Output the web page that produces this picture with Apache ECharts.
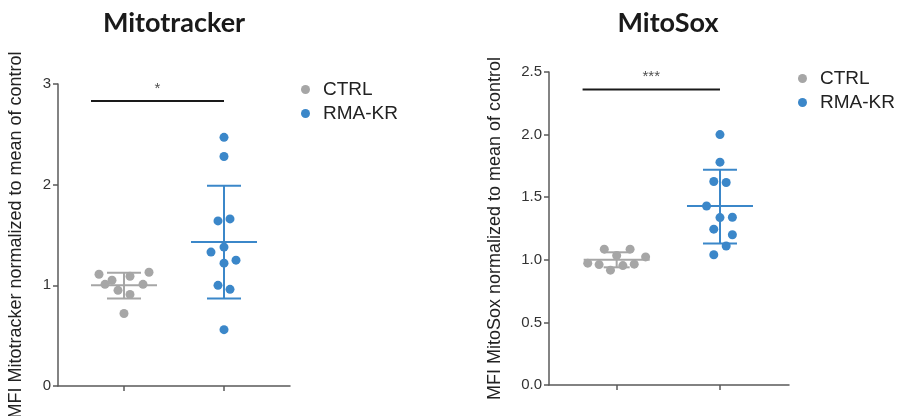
<!DOCTYPE html>
<html><head><meta charset="utf-8">
<script src="https://cdn.jsdelivr.net/npm/echarts@6/dist/echarts.min.js"></script>
<style>html,body{margin:0;padding:0;background:#fff}#c{width:909px;height:416px}</style>
</head><body><div id="c"></div>
<script>
// ---------- data ----------
const groups = ['CTRL', 'RMA-KR'];
const groupPos = [1, 2];
// Mitotracker
const mitoCtrl       = [1.11, 1.05, 1.01, 1.09, 1.13, 1.01, 0.95, 0.91, 0.72];
const mitoCtrlJitter = [-0.25, -0.12, -0.19, 0.06, 0.25, 0.19, -0.06, 0.06, 0];
const mitoKr         = [2.47, 2.28, 1.64, 1.66, 1.38, 1.33, 1.25, 1.22, 1.00, 0.96, 0.56];
const mitoKrJitter   = [0, 0, -0.06, 0.06, 0, -0.13, 0.12, 0, -0.06, 0.06, 0];
const mitoMean = [1.00, 1.43];
const mitoLow  = [0.87, 0.87];
const mitoHigh = [1.125, 1.99];
// MitoSox
const soxCtrl       = [1.085, 1.085, 1.034, 1.023, 0.973, 0.962, 0.954, 0.965, 0.917];
const soxCtrlJitter = [-0.12, 0.13, 0, 0.28, -0.28, -0.17, 0.06, 0.17, -0.06];
const soxKr         = [2.00, 1.78, 1.625, 1.617, 1.43, 1.337, 1.34, 1.245, 1.20, 1.11, 1.04];
const soxKrJitter   = [0, 0, -0.06, 0.06, -0.13, 0, 0.12, -0.06, 0.12, 0.06, -0.06];
const soxMean = [1.00, 1.43];
const soxLow  = [0.94, 1.13];
const soxHigh = [1.06, 1.72];
// significance
const sigSpan  = [0.67, 2];
const sigLevel = [2.83, 2.36];
const sigLabel = ['*', '***'];
// axes
const titles = ['Mitotracker', 'MitoSox'];
const yNames = ['MFI Mitotracker normalized to mean of control', 'MFI MitoSox normalized to mean of control'];
const yMax = [3, 2.5];
const yStep = [1, 0.5];

// ---------- style ----------
const GRAY = '#a6a6a6', BLUE = '#3b87c9', AXIS = '#5a5a5a';
const FONT = 'Liberation Sans, Arial, sans-serif';

function pts(vals, jit, gi) { return vals.map((v, i) => [groupPos[gi] + jit[i], v]); }

function errRender(capHalfs) {
  return function (params, api) {
    const x = api.value(0), m = api.value(1), lo = api.value(2), hi = api.value(3);
    const c = api.coord([x, m]), cl = api.coord([x, lo]), ch = api.coord([x, hi]);
    const col = api.visual('color');
    const st = { stroke: col, lineWidth: 2 };
    const cap = capHalfs[params.dataIndex] || 17;
    return { type: 'group', children: [
      { type: 'line', shape: { x1: c[0] - 33, y1: c[1], x2: c[0] + 33, y2: c[1] }, style: st },
      { type: 'line', shape: { x1: cl[0], y1: cl[1], x2: ch[0], y2: ch[1] }, style: st },
      { type: 'line', shape: { x1: ch[0] - cap, y1: ch[1], x2: ch[0] + cap, y2: ch[1] }, style: st },
      { type: 'line', shape: { x1: cl[0] - cap, y1: cl[1], x2: cl[0] + cap, y2: cl[1] }, style: st }
    ]};
  };
}

const sets = [
  { ctrl: pts(mitoCtrl, mitoCtrlJitter, 0), kr: pts(mitoKr, mitoKrJitter, 1), mean: mitoMean, low: mitoLow, high: mitoHigh, caps: [17, 17] },
  { ctrl: pts(soxCtrl, soxCtrlJitter, 0), kr: pts(soxKr, soxKrJitter, 1), mean: soxMean, low: soxLow, high: soxHigh, caps: [13, 17] }
];

const grids = [
  { left: 58, width: 232, top: 84, height: 302, outerBoundsMode: 'none', containLabel: false },
  { left: 549, width: 240, top: 72, height: 313, outerBoundsMode: 'none', containLabel: false }
];
const xRanges = [[0.34, 2.66], [0.345, 2.668]];

const titleStyle = { fontFamily: 'Lato', fontWeight: 'bold', fontSize: 27, color: '#1a1a1a' };
const legendText = { fontFamily: FONT, fontSize: 19, color: '#222', padding: [0, 0, 0, 8], lineHeight: 19 };

const option = {
  animation: false,
  backgroundColor: '#fff',
  title: [
    { text: titles[0], left: 169, top: 5, textAlign: 'center', textStyle: titleStyle },
    { text: titles[1], left: 663, top: 5, textAlign: 'center', textStyle: titleStyle }
  ],
  legend: [
    { left: 296, top: 75, orient: 'vertical', itemGap: 5, itemWidth: 9, itemHeight: 9, icon: 'circle', data: groups, textStyle: legendText },
    { left: 793, top: 64, orient: 'vertical', itemGap: 5, itemWidth: 9, itemHeight: 9, icon: 'circle', data: groups, textStyle: legendText }
  ],
  grid: grids,
  xAxis: [0, 1].map(i => ({
    type: 'value', gridIndex: i, min: xRanges[i][0], max: xRanges[i][1],
    splitLine: { show: false },
    axisLine: { show: true, lineStyle: { color: AXIS, width: 1.5 } },
    axisTick: { show: true, customValues: groupPos, length: 5, lineStyle: { color: AXIS, width: 1.5 } },
    axisLabel: { show: false }
  })),
  yAxis: [0, 1].map(i => ({
    type: 'value', gridIndex: i, min: 0, max: yMax[i], interval: yStep[i],
    name: yNames[i], nameLocation: 'middle', nameRotate: 90, nameGap: i === 0 ? 33 : 45,
    nameTextStyle: { fontFamily: FONT, fontSize: 18, color: '#222' },
    splitLine: { show: false },
    axisLine: { show: true, lineStyle: { color: AXIS, width: 1.5 } },
    axisTick: { show: true, length: 5, lineStyle: { color: AXIS, width: 1.5 } },
    axisLabel: { fontFamily: FONT, fontSize: 15, color: '#333', margin: 7,
      formatter: v => i === 0 ? String(v) : v.toFixed(1) }
  })),
  series: []
};

[0, 1].forEach(i => {
  const s = sets[i];
  option.series.push({
    type: 'custom', name: groups[0], xAxisIndex: i, yAxisIndex: i, z: 2,
    itemStyle: { color: GRAY }, renderItem: errRender([s.caps[0]]),
    data: [[groupPos[0], s.mean[0], s.low[0], s.high[0]]]
  });
  option.series.push({
    type: 'custom', name: groups[1], xAxisIndex: i, yAxisIndex: i, z: 2,
    itemStyle: { color: BLUE }, renderItem: errRender([s.caps[1]]),
    data: [[groupPos[1], s.mean[1], s.low[1], s.high[1]]]
  });
  option.series.push({
    type: 'scatter', name: groups[0], xAxisIndex: i, yAxisIndex: i, z: 3,
    symbolSize: 9, itemStyle: { color: GRAY, opacity: 1 }, data: s.ctrl
  });
  option.series.push({
    type: 'scatter', name: groups[1], xAxisIndex: i, yAxisIndex: i, z: 3,
    symbolSize: 9, itemStyle: { color: BLUE, opacity: 1 }, data: s.kr
  });
  option.series.push({
    type: 'line', xAxisIndex: i, yAxisIndex: i, z: 2, symbol: 'none', silent: true,
    lineStyle: { color: '#1a1a1a', width: 2 },
    data: [[sigSpan[0], sigLevel[i]], [sigSpan[1], sigLevel[i]]]
  });
  option.series.push({
    type: 'scatter', xAxisIndex: i, yAxisIndex: i, symbolSize: 0, silent: true,
    label: { show: true, position: 'top', distance: 5, formatter: sigLabel[i],
      fontFamily: FONT, fontSize: 15, color: '#222' },
    data: [[(sigSpan[0] + sigSpan[1]) / 2, sigLevel[i]]]
  });
});

const chart = echarts.init(document.getElementById('c'), null, { renderer: 'canvas' });
chart.setOption(option);
</script>
</body></html>
